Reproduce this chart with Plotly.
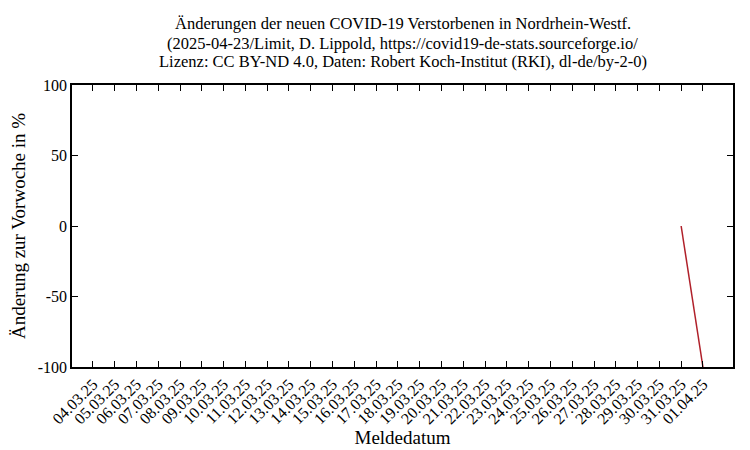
import plotly.graph_objects as go

# Meldedatum (Kategorien)
dates = ['04.03.25', '05.03.25', '06.03.25', '07.03.25', '08.03.25', '09.03.25',
         '10.03.25', '11.03.25', '12.03.25', '13.03.25', '14.03.25', '15.03.25',
         '16.03.25', '17.03.25', '18.03.25', '19.03.25', '20.03.25', '21.03.25',
         '22.03.25', '23.03.25', '24.03.25', '25.03.25', '26.03.25', '27.03.25',
         '28.03.25', '29.03.25', '30.03.25', '31.03.25', '01.04.25']

# Änderung zur Vorwoche in % (None = kein Wert)
change = [None] * 27 + [0, -100]

y_ticks = [-100, -50, 0, 50, 100]

title_lines = ['Änderungen der neuen COVID-19 Verstorbenen in Nordrhein-Westf.',
               '(2025-04-23/Limit, D. Lippold, https://covid19-de-stats.sourceforge.io/',
               'Lizenz: CC BY-ND 4.0, Daten: Robert Koch-Institut (RKI), dl-de/by-2-0)']

font = dict(family='Liberation Serif, Times New Roman, serif', size=16, color='black')

fig = go.Figure()
fig.add_trace(go.Scatter(x=dates, y=change, mode='lines',
                         line=dict(color='#b0202a', width=1.5),
                         connectgaps=False, showlegend=False))

# page has an 8px body margin, so the figure is a bit smaller
fig.update_layout(
    width=742, height=442,
    margin=dict(l=64, r=17, t=77, b=83),
    paper_bgcolor='white', plot_bgcolor='white',
    font=font,
)

# title as three lines with tighter spacing than plotly's title
for line, shift in zip(title_lines, [62, 42, 24]):
    fig.add_annotation(text=line, xref='paper', yref='paper', x=0.5, y=1,
                       xanchor='center', yanchor='middle', yshift=shift,
                       showarrow=False, font=dict(size=16.5))

fig.update_xaxes(
    type='category', range=[-0.96, 29.38], automargin=False,
    tickangle=-45, ticks='inside', ticklen=6, tickcolor='black',
    showline=True, linecolor='black', linewidth=1.5, mirror='ticks',
    showgrid=False, zeroline=False,
    title=dict(text='Meldedatum', standoff=1),
)
fig.update_yaxes(
    range=[-100, 100], tickvals=y_ticks, ticktext=[str(v) for v in y_ticks],
    automargin=False,
    ticks='inside', ticklen=6, tickcolor='black',
    showline=True, linecolor='black', linewidth=1.5, mirror='ticks',
    showgrid=False, zeroline=False,
    title=dict(text='Änderung zur Vorwoche in %', standoff=9),
)

fig.write_html('out.html')
